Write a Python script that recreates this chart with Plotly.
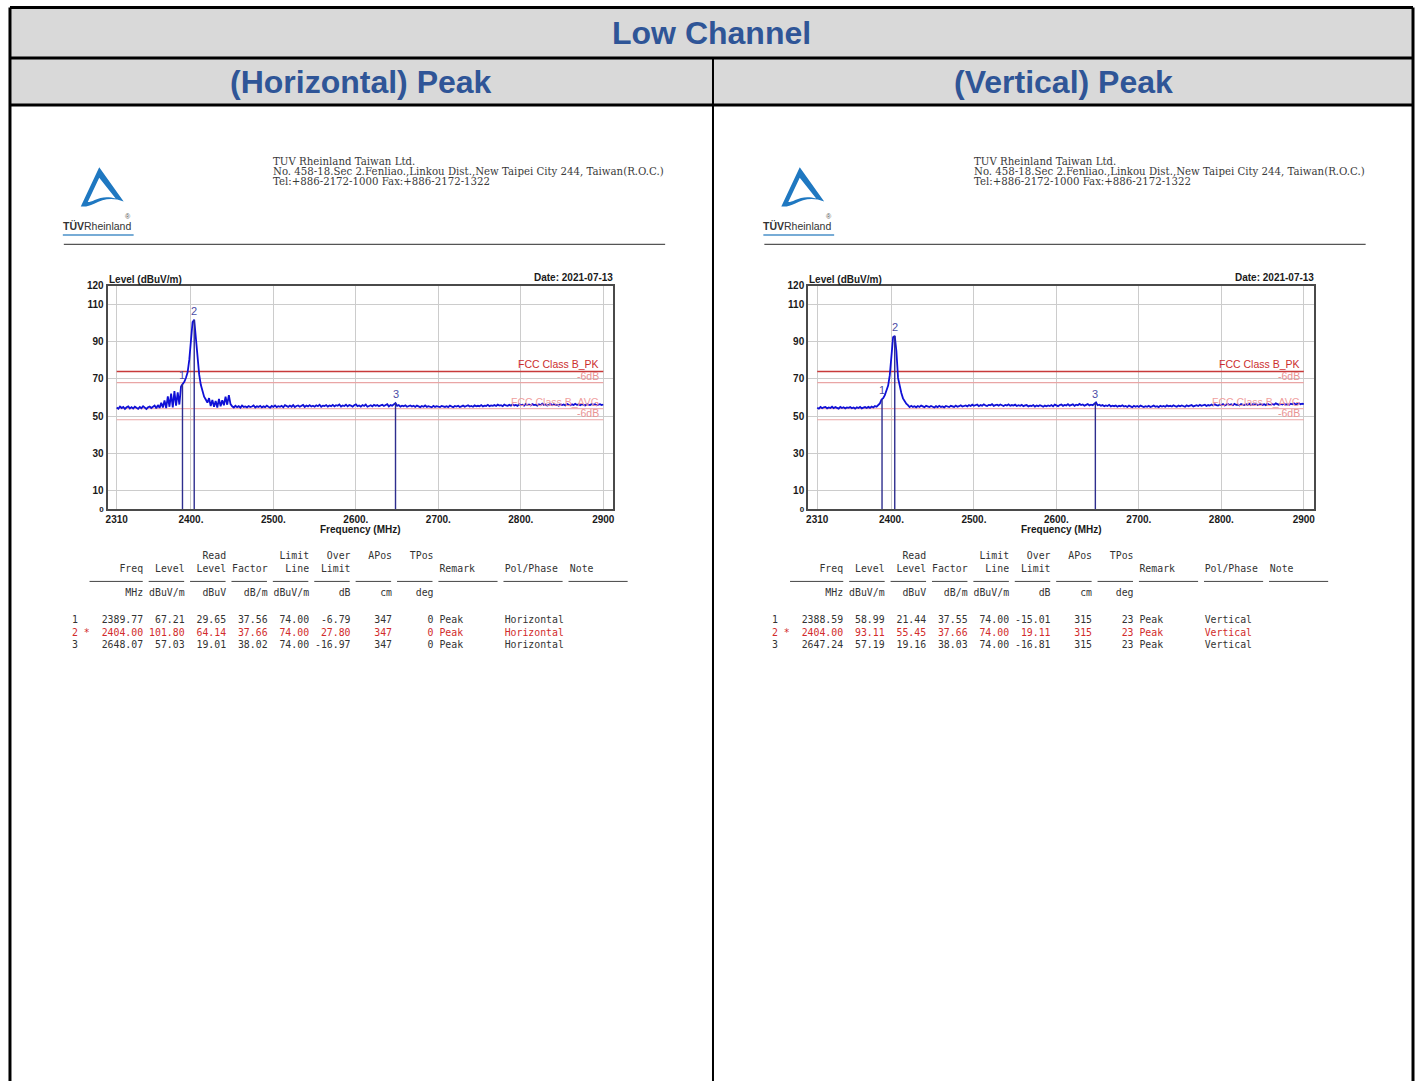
import plotly.graph_objects as go

PAGE_W, PAGE_H = 1420, 1086

# ---------------------------------------------------------------- sweep data
SWEEP_START_MHZ = 2310
SWEEP_STEP_MHZ = 2

# Horizontal polarisation, peak detector (dBuV/m), one value per sweep step
level_h = [
    54.6, 53.9, 55.1, 54.3, 54.9, 53.8, 54.7, 55.2, 54.1, 54.8,
    54.0, 55.0, 54.4, 53.9, 54.9, 54.2, 55.3, 54.5, 53.8, 54.7,
    55.1, 54.3, 54.9, 55.6, 54.2, 55.9, 54.4, 57.1, 54.6, 58.4,
    54.3, 60.6, 55.0, 62.1, 54.7, 63.4, 55.6, 62.8, 56.2, 65.9,
    67.2, 68.4, 70.6, 73.5, 80.2, 92.4, 100.6, 101.8, 92.0, 80.5,
    72.4, 66.8, 63.2, 60.4, 58.9, 57.2, 59.6, 55.4, 58.7, 55.0,
    58.1, 54.6, 59.2, 55.3, 58.5, 55.8, 60.4, 56.1, 61.2, 56.4,
    55.2, 54.6, 55.5, 54.8, 55.3, 54.5, 55.6, 54.9, 55.2, 54.7,
    55.4, 54.8, 55.1, 55.7, 54.6, 55.3, 54.9, 55.5, 54.7, 55.2,
    54.8, 55.6, 55.0, 54.5, 55.4, 54.9, 55.7, 54.8, 55.3, 55.0,
    55.5, 54.7, 55.8, 55.1, 54.9, 55.6, 55.0, 55.9, 54.8, 55.4,
    55.7, 55.0, 55.4, 56.0, 54.9, 55.6, 55.2, 55.9, 55.1, 55.5,
    55.0, 55.8, 55.3, 56.1, 55.0, 55.6, 55.4, 55.9, 55.1, 55.7,
    55.3, 56.0, 55.2, 55.8, 55.5, 56.2, 55.1, 55.7, 55.4, 56.1,
    55.2, 55.9, 55.6, 55.0, 55.8, 56.3, 55.3, 55.7, 55.1, 55.9,
    55.4, 56.2, 55.0, 55.6, 55.8, 55.2, 56.0, 55.5, 55.9, 55.3,
    55.7, 56.1, 55.4, 55.8, 56.4, 55.2, 55.9, 55.6, 56.3, 57.0,
    55.5, 55.9, 55.1, 55.6, 55.3, 55.8, 55.0, 55.4, 55.7, 55.1,
    55.5, 54.9, 55.6, 55.2, 54.8, 55.4, 55.0, 55.7, 54.9, 55.3,
    55.1, 54.7, 55.5, 54.9, 55.3, 55.0, 54.8, 55.4, 55.1, 54.9,
    55.3, 54.8, 55.6, 55.0, 54.7, 55.4, 55.1, 55.5, 54.9, 55.2,
    55.6, 55.0, 55.3, 55.8, 55.1, 55.4, 55.0, 55.7, 55.2, 55.5,
    55.3, 55.9, 55.2, 55.6, 55.4, 56.0, 55.3, 55.7, 55.5, 55.9,
    55.4, 56.1, 55.6, 55.8, 55.3, 56.2, 55.7, 55.5, 56.0, 55.6,
    56.3, 55.7, 56.0, 55.5, 56.4, 55.8, 56.1, 55.6, 56.5, 55.9,
    56.2, 55.7, 56.4, 55.9, 56.1, 55.6, 56.3, 55.8, 56.6, 55.9,
    56.2, 55.7, 56.0, 56.5, 55.8, 56.3, 55.9, 56.1, 55.6, 56.4,
    55.9, 56.2, 55.7, 56.5, 56.0, 55.8, 56.3, 55.9, 56.6, 56.0,
    56.2, 55.8, 56.4, 56.0, 55.7, 56.3, 56.1, 55.9, 56.5, 56.0,
    56.3, 55.8, 56.1, 56.4, 55.9, 56.2,
]

# Vertical polarisation, peak detector (dBuV/m)
level_v = [
    54.5, 54.0, 54.9, 54.2, 54.7, 54.9, 54.1, 54.6, 54.3, 55.0,
    54.2, 54.8, 54.4, 54.0, 54.9, 54.3, 54.7, 54.1, 54.6, 54.4,
    54.8, 54.2, 54.6, 54.0, 54.7, 54.3, 54.9, 54.1, 54.5, 54.8,
    54.3, 54.9, 54.4, 55.1, 54.6, 55.4, 55.0, 56.2, 56.8, 58.9,
    59.6, 61.2, 63.5, 66.4, 72.0, 84.5, 92.4, 93.1, 85.0, 70.5,
    66.0, 62.4, 59.5, 58.0, 56.6, 55.9, 54.8, 55.5, 54.9, 55.3,
    54.7, 55.4, 54.9, 55.6, 55.0, 54.8, 55.5, 55.1, 54.8, 55.4,
    55.0, 54.6, 55.3, 54.8, 55.5, 54.9, 55.2, 54.7, 55.4, 55.0,
    54.8, 55.5, 55.1, 54.9, 55.6, 55.0, 55.3, 55.8, 55.1, 55.4,
    55.7, 55.2, 55.9, 55.4, 56.1, 55.5, 55.8, 56.2, 55.3, 55.9,
    55.6, 56.3, 55.7, 55.4, 56.0, 55.8, 56.4, 55.5, 55.9, 56.1,
    55.6, 56.2, 55.8, 55.4, 56.0, 55.7, 56.3, 55.5, 55.9, 55.6,
    56.1, 55.4, 55.8, 55.5, 56.0, 55.3, 55.7, 55.9, 55.2, 55.6,
    55.4, 55.9, 55.1, 55.7, 55.3, 55.8, 55.5, 55.0, 55.6, 55.2,
    55.7, 55.4, 55.9, 55.2, 56.1, 55.6, 55.3, 55.9, 56.2, 55.5,
    56.0, 55.7, 56.4, 55.6, 55.9, 56.3, 55.5, 56.1, 55.8, 56.5,
    55.9, 56.2, 55.6, 56.0, 56.4, 55.7, 56.1, 55.8, 56.8, 57.3,
    55.8, 56.1, 55.5, 55.9, 55.3, 55.7, 55.4, 56.0, 55.2, 55.6,
    55.3, 55.7, 55.0, 55.5, 55.2, 55.8, 55.1, 55.4, 54.9, 55.6,
    55.2, 54.8, 55.5, 55.0, 55.4, 54.9, 55.6, 55.1, 54.8, 55.3,
    55.0, 55.5, 54.9, 55.2, 55.6, 55.0, 55.3, 54.8, 55.5, 55.1,
    55.4, 55.0, 55.7, 55.2, 55.5, 55.1, 55.8, 55.3, 55.0, 55.6,
    55.2, 55.7, 55.4, 55.0, 55.8, 55.3, 55.6, 55.9, 55.2, 55.5,
    55.8, 55.4, 56.0, 55.5, 55.7, 56.1, 55.4, 55.9, 55.6, 56.2,
    55.7, 56.3, 55.9, 55.6, 56.2, 55.8, 56.4, 55.7, 56.1, 56.5,
    55.9, 56.3, 55.8, 56.6, 56.0, 56.2, 55.7, 56.5, 56.1, 55.9,
    56.4, 56.0, 56.6, 55.8, 56.3, 56.1, 56.7, 55.9, 56.2, 56.5,
    56.0, 56.4, 55.9, 56.6, 56.2, 56.0, 56.5, 56.1, 56.8, 56.3,
    56.0, 56.5, 56.2, 56.7, 56.1, 56.4, 56.0, 56.6, 56.3, 56.8,
    56.2, 56.5, 56.9, 56.3, 56.6, 56.4,
]

# Limit lines (dBuV/m) and the warning margin below each
LIMIT_PK = 74.0
LIMIT_AVG = 54.0
MARGIN_DB = 6.0

# Marker tables
mk_no = ["1", "2", "3"]
mk_flag = ["", "*", ""]
mk_freq_h = [2389.77, 2404.00, 2648.07]
mk_level_h = [67.21, 101.80, 57.03]
mk_read_h = [29.65, 64.14, 19.01]
mk_factor_h = [37.56, 37.66, 38.02]
mk_limit_h = [74.00, 74.00, 74.00]
mk_over_h = [-6.79, 27.80, -16.97]
mk_apos_h = [347, 347, 347]
mk_tpos_h = [0, 0, 0]

mk_freq_v = [2388.59, 2404.00, 2647.24]
mk_level_v = [58.99, 93.11, 57.19]
mk_read_v = [21.44, 55.45, 19.16]
mk_factor_v = [37.55, 37.66, 38.03]
mk_limit_v = [74.00, 74.00, 74.00]
mk_over_v = [-15.01, 19.11, -16.81]
mk_apos_v = [315, 315, 315]
mk_tpos_v = [23, 23, 23]

mk_remark = ["Peak", "Peak", "Peak"]

x_tickvals = [2310, 2400, 2500, 2600, 2700, 2800, 2900]
x_ticktext = ["2310", "2400.", "2500.", "2600.", "2700.", "2800.", "2900"]
y_tickvals = [0, 10, 30, 50, 70, 90, 110, 120]
y_ticktext = ["<span style='font-size:8px'>0</span>", "10", "30", "50", "70", "90", "110", "120"]

REPORT_DATE = "2021-07-13"
HEADER_LINES = [
    "TUV Rheinland Taiwan Ltd.",
    "No. 458-18.Sec 2.Fenliao.,Linkou Dist.,New Taipei City 244, Taiwan(R.O.C.)",
    "Tel:+886-2172-1000 Fax:+886-2172-1322",
]

# ---------------------------------------------------------------- styling
SANS = "Liberation Sans"
MONO = "DejaVu Sans Mono"
SERIF = "DejaVu Serif"
TITLE_BLUE = "#2f5597"
TRACE_BLUE = "#1010d6"
MARKER_NAVY = "#2e2e8e"
MARKER_TEXT = "#4d4da6"
GRID = "#cccccc"
FRAME = "#4a4a4a"
LOGO_BLUE = "#1f78c1"
ROW_RED = "#d22b2b"

CW = 5.93          # monospace advance of the marker table (px)
MONO_SIZE = CW / 0.602

fig = go.Figure()

# full-page pixel axis used for the page furniture
fig.update_layout(
    xaxis3=dict(domain=[0, 1], range=[0, PAGE_W], visible=False, fixedrange=True, anchor="y3"),
    yaxis3=dict(domain=[0, 1], range=[PAGE_H, 0], visible=False, fixedrange=True, anchor="x3"),
)
fig.add_trace(go.Scatter(x=[0], y=[0], xaxis="x3", yaxis="y3", mode="markers",
                         marker=dict(opacity=0), hoverinfo="skip", showlegend=False))

shapes = []
annotations = []


def page_text(x, y, text, size, color, family=SANS, xanchor="left", yanchor="middle", weight="normal"):
    annotations.append(dict(
        x=x, y=y, xref="x3", yref="y3", text=text, showarrow=False,
        xanchor=xanchor, yanchor=yanchor, borderpad=0, borderwidth=0,
        font=dict(family=family, size=size, color=color, weight=weight),
    ))


def page_line(x0, y0, x1, y1, color, width):
    shapes.append(dict(type="line", xref="x3", yref="y3", x0=x0, y0=y0, x1=x1, y1=y1,
                       line=dict(color=color, width=width), layer="above"))


# ---------------------------------------------------------------- outer table
TBL_L, TBL_R, TBL_T = 8, 1415, 1.5
ROW1_B, ROW2_B, MID_X = 52.5, 100, 713
for y0, y1 in [(TBL_T, ROW1_B), (ROW1_B, ROW2_B)]:
    shapes.append(dict(type="rect", xref="x3", yref="y3", x0=TBL_L, x1=TBL_R, y0=y0, y1=y1,
                       fillcolor="#d9d9d9", line=dict(width=0), layer="below"))
page_line(TBL_L, TBL_T, TBL_R, TBL_T, "#000", 3)
page_line(TBL_L, TBL_T, TBL_L, PAGE_H + 5, "#000", 3)
page_line(TBL_R, TBL_T, TBL_R, PAGE_H + 5, "#000", 3)
page_line(TBL_L, ROW1_B, TBL_R, ROW1_B, "#000", 3)
page_line(TBL_L, ROW2_B, TBL_R, ROW2_B, "#000", 3)
page_line(MID_X, ROW1_B, MID_X, PAGE_H + 5, "#000", 2)

page_text((TBL_L + TBL_R) / 2, 27, "Low Channel", 32, TITLE_BLUE, xanchor="center", weight="bold")
page_text((TBL_L + MID_X) / 2, 77, "(Horizontal) Peak", 32, TITLE_BLUE, xanchor="center", weight="bold")
page_text((MID_X + TBL_R) / 2, 77, "(Vertical) Peak", 32, TITLE_BLUE, xanchor="center", weight="bold")

# ---------------------------------------------------------------- panels
panels = [
    dict(suffix="", dx=0.0, levels=level_h, freq=mk_freq_h, level=mk_level_h, read=mk_read_h,
         factor=mk_factor_h, limit=mk_limit_h, over=mk_over_h, apos=mk_apos_h, tpos=mk_tpos_h,
         pol="Horizontal"),
    dict(suffix="2", dx=702.5, levels=level_v, freq=mk_freq_v, level=mk_level_v, read=mk_read_v,
         factor=mk_factor_v, limit=mk_limit_v, over=mk_over_v, apos=mk_apos_v, tpos=mk_tpos_v,
         pol="Vertical"),
]

PLOT_L, PLOT_R, PLOT_T, PLOT_B = 106, 613, 282.8, 508.1
X_RANGE = [2299.1, 2912.1]

for p in panels:
    s = p["suffix"]
    dx = p["dx"]
    xa, ya = "x" + s, "y" + s
    freqs = [SWEEP_START_MHZ + i * SWEEP_STEP_MHZ for i in range(len(p["levels"]))]
    f_lo, f_hi = freqs[0], freqs[-1]

    fig.update_layout(**{
        "xaxis" + s: dict(
            domain=[(PLOT_L + dx) / PAGE_W, (PLOT_R + dx) / PAGE_W], range=X_RANGE,
            anchor=ya, tickvals=x_tickvals, ticktext=x_ticktext, showgrid=True,
            gridcolor=GRID, gridwidth=1, zeroline=False, showline=True, mirror=True,
            linecolor=FRAME, linewidth=2, ticks="", ticklabelstandoff=0,
            tickfont=dict(family=SANS, size=10, color="#1a1a1a", weight="bold"),
            fixedrange=True,
        ),
        "yaxis" + s: dict(
            domain=[1 - PLOT_B / PAGE_H, 1 - PLOT_T / PAGE_H], range=[0, 120],
            anchor=xa, tickvals=y_tickvals, ticktext=y_ticktext, showgrid=True,
            gridcolor=GRID, gridwidth=1, zeroline=False, showline=True, mirror=True,
            linecolor=FRAME, linewidth=2, ticks="", ticklabelstandoff=0,
            tickfont=dict(family=SANS, size=10, color="#1a1a1a", weight="bold"),
            fixedrange=True,
        ),
    })

    # limit lines
    limit_styles = [
        (LIMIT_PK, "#c83a3a", 1.5),
        (LIMIT_PK - MARGIN_DB, "#e9a5a5", 1.1),
        (LIMIT_AVG, "#f1b3b3", 1.1),
        (LIMIT_AVG - MARGIN_DB, "#eaa6a6", 1.1),
    ]
    for lv, col, w in limit_styles:
        fig.add_trace(go.Scatter(x=[f_lo, f_hi], y=[lv, lv], xaxis=xa, yaxis=ya, mode="lines",
                                 line=dict(color=col, width=w), hoverinfo="skip", showlegend=False))

    # spectrum
    fig.add_trace(go.Scatter(x=freqs, y=p["levels"], xaxis=xa, yaxis=ya, mode="lines",
                             line=dict(color=TRACE_BLUE, width=1.8), showlegend=False))

    # marker drop lines
    mx, my = [], []
    for f, lv in zip(p["freq"], p["level"]):
        mx += [f, f, None]
        my += [0, lv, None]
    fig.add_trace(go.Scatter(x=mx, y=my, xaxis=xa, yaxis=ya, mode="lines",
                             line=dict(color=MARKER_NAVY, width=1.4), hoverinfo="skip",
                             showlegend=False))
    for n, f, lv in zip(mk_no, p["freq"], p["level"]):
        annotations.append(dict(x=f, y=lv, xref=xa, yref=ya, text=n, showarrow=False,
                                xanchor="center", yanchor="bottom", yshift=1,
                                font=dict(family=SANS, size=11, color=MARKER_TEXT)))

    # limit labels
    label_x = 2896
    for lv, txt, col in [
        (LIMIT_PK, "FCC Class B_PK", "#cc2e2e"),
        (LIMIT_PK - MARGIN_DB, "-6dB", "#e99393"),
        (LIMIT_AVG, "FCC Class B_AVG", "#efa0a0"),
        (LIMIT_AVG - MARGIN_DB, "-6dB", "#e99393"),
    ]:
        annotations.append(dict(x=label_x, y=lv, xref=xa, yref=ya, text=txt, showarrow=False,
                                xanchor="right", yanchor="bottom", yshift=0, borderpad=0,
                                font=dict(family=SANS, size=10.5, color=col)))

    # chart captions
    page_text(PLOT_L + dx + 1, 275.8, "Level (dBuV/m)", 10, "#1a1a1a", weight="bold")
    page_text(PLOT_R + dx, 274.7, "Date: " + REPORT_DATE, 10, "#1a1a1a", xanchor="right", weight="bold")
    page_text((PLOT_L + PLOT_R) / 2 + dx, 529.3, "Frequency (MHz)", 10, "#1a1a1a",
              xanchor="center", weight="bold")

    # letterhead
    for i, line in enumerate(HEADER_LINES):
        page_text(272 + dx, 156.6 + 10.1 * i, line, 10.2, "#3a3a3a", family=SERIF)
    ly = -3.5
    outer = (f"M {97.5+dx},{166.5+ly} L {122+dx},{201+ly} C {111+dx},{196.5+ly} {101+dx},{198.5+ly} "
             f"{93+dx},{203+ly} C {88+dx},{205.5+ly} {84+dx},{206.5+ly} {79+dx},{206+ly} Z")
    inner = (f"M {97.5+dx},{177+ly} L {114+dx},{198+ly} C {106+dx},{195.5+ly} {99+dx},{196.5+ly} "
             f"{93+dx},{199.5+ly} C {90+dx},{201+ly} {88+dx},{201.5+ly} {86+dx},{201.5+ly} Z")
    shapes.append(dict(type="path", xref="x3", yref="y3", path=outer, fillcolor=LOGO_BLUE,
                       line=dict(width=0), layer="above"))
    shapes.append(dict(type="path", xref="x3", yref="y3", path=inner, fillcolor="white",
                       line=dict(width=0), layer="above"))
    page_text(61 + dx, 222.2, "<b>TÜV</b>Rheinland", 10.5, "#333333")
    page_text(126.5 + dx, 213.1, "®", 7, "#555555", xanchor="center")
    page_line(61 + dx, 231.3, 132 + dx, 231.3, "#4a90c8", 1.5)
    page_line(62 + dx, 240.9, 665 + dx, 240.9, "#555555", 1.2)

    # marker table
    x0 = 70 + dx
    nb = lambda t: t.replace(" ", "\u00a0")
    hdr1 = " " * 19 + f"{'Read':>7}" + " " * 7 + f"{'Limit':>7}{'Over':>7}{'APos':>7}{'TPos':>7}"
    hdr2 = (" " * 5 + f"{'Freq':>7}{'Level':>7}{'Level':>7}{'Factor':>7}{'Line':>7}{'Limit':>7}"
            + " " * 15 + f"{'Remark':<10} {'Pol/Phase':<10} Note")
    units = (" " * 5 + f"{'MHz':>7}{'dBuV/m':>7}{'dBuV':>7}{'dB/m':>7}{'dBuV/m':>7}"
             f"{'dB':>7}{'cm':>7}{'deg':>7}")
    for y, t in [(555.6, hdr1), (568.7, hdr2), (592.9, units)]:
        page_text(x0, y, nb(t), MONO_SIZE, "#333333", family=MONO)
    for c0, c1 in [(3, 12), (13, 19), (20, 26), (27, 33), (34, 40), (41, 47), (48, 54),
                   (55, 61), (62, 72), (73, 83), (84, 94)]:
        page_line(x0 + c0 * CW, 581.3, x0 + c1 * CW, 581.3, "#444444", 1)
    rows_y = [620.2, 632.8, 645.5]
    for i in range(3):
        row = (f"{mk_no[i]:<2}{mk_flag[i]:<3}{p['freq'][i]:7.2f}{p['level'][i]:7.2f}"
               f"{p['read'][i]:7.2f}{p['factor'][i]:7.2f}{p['limit'][i]:7.2f}{p['over'][i]:7.2f}"
               f"{p['apos'][i]:7d}{p['tpos'][i]:7d} {mk_remark[i]:<10} {p['pol']:<10}")
        colr = ROW_RED if mk_flag[i] else "#333333"
        page_text(x0, rows_y[i], nb(row), MONO_SIZE, colr, family=MONO)

fig.update_layout(
    width=PAGE_W, height=PAGE_H, margin=dict(l=0, r=0, t=0, b=0),
    paper_bgcolor="white", plot_bgcolor="rgba(0,0,0,0)",
    shapes=shapes, annotations=annotations, showlegend=False,
    font=dict(family=SANS),
)

fig.write_html("out.html", config={"displayModeBar": False})
